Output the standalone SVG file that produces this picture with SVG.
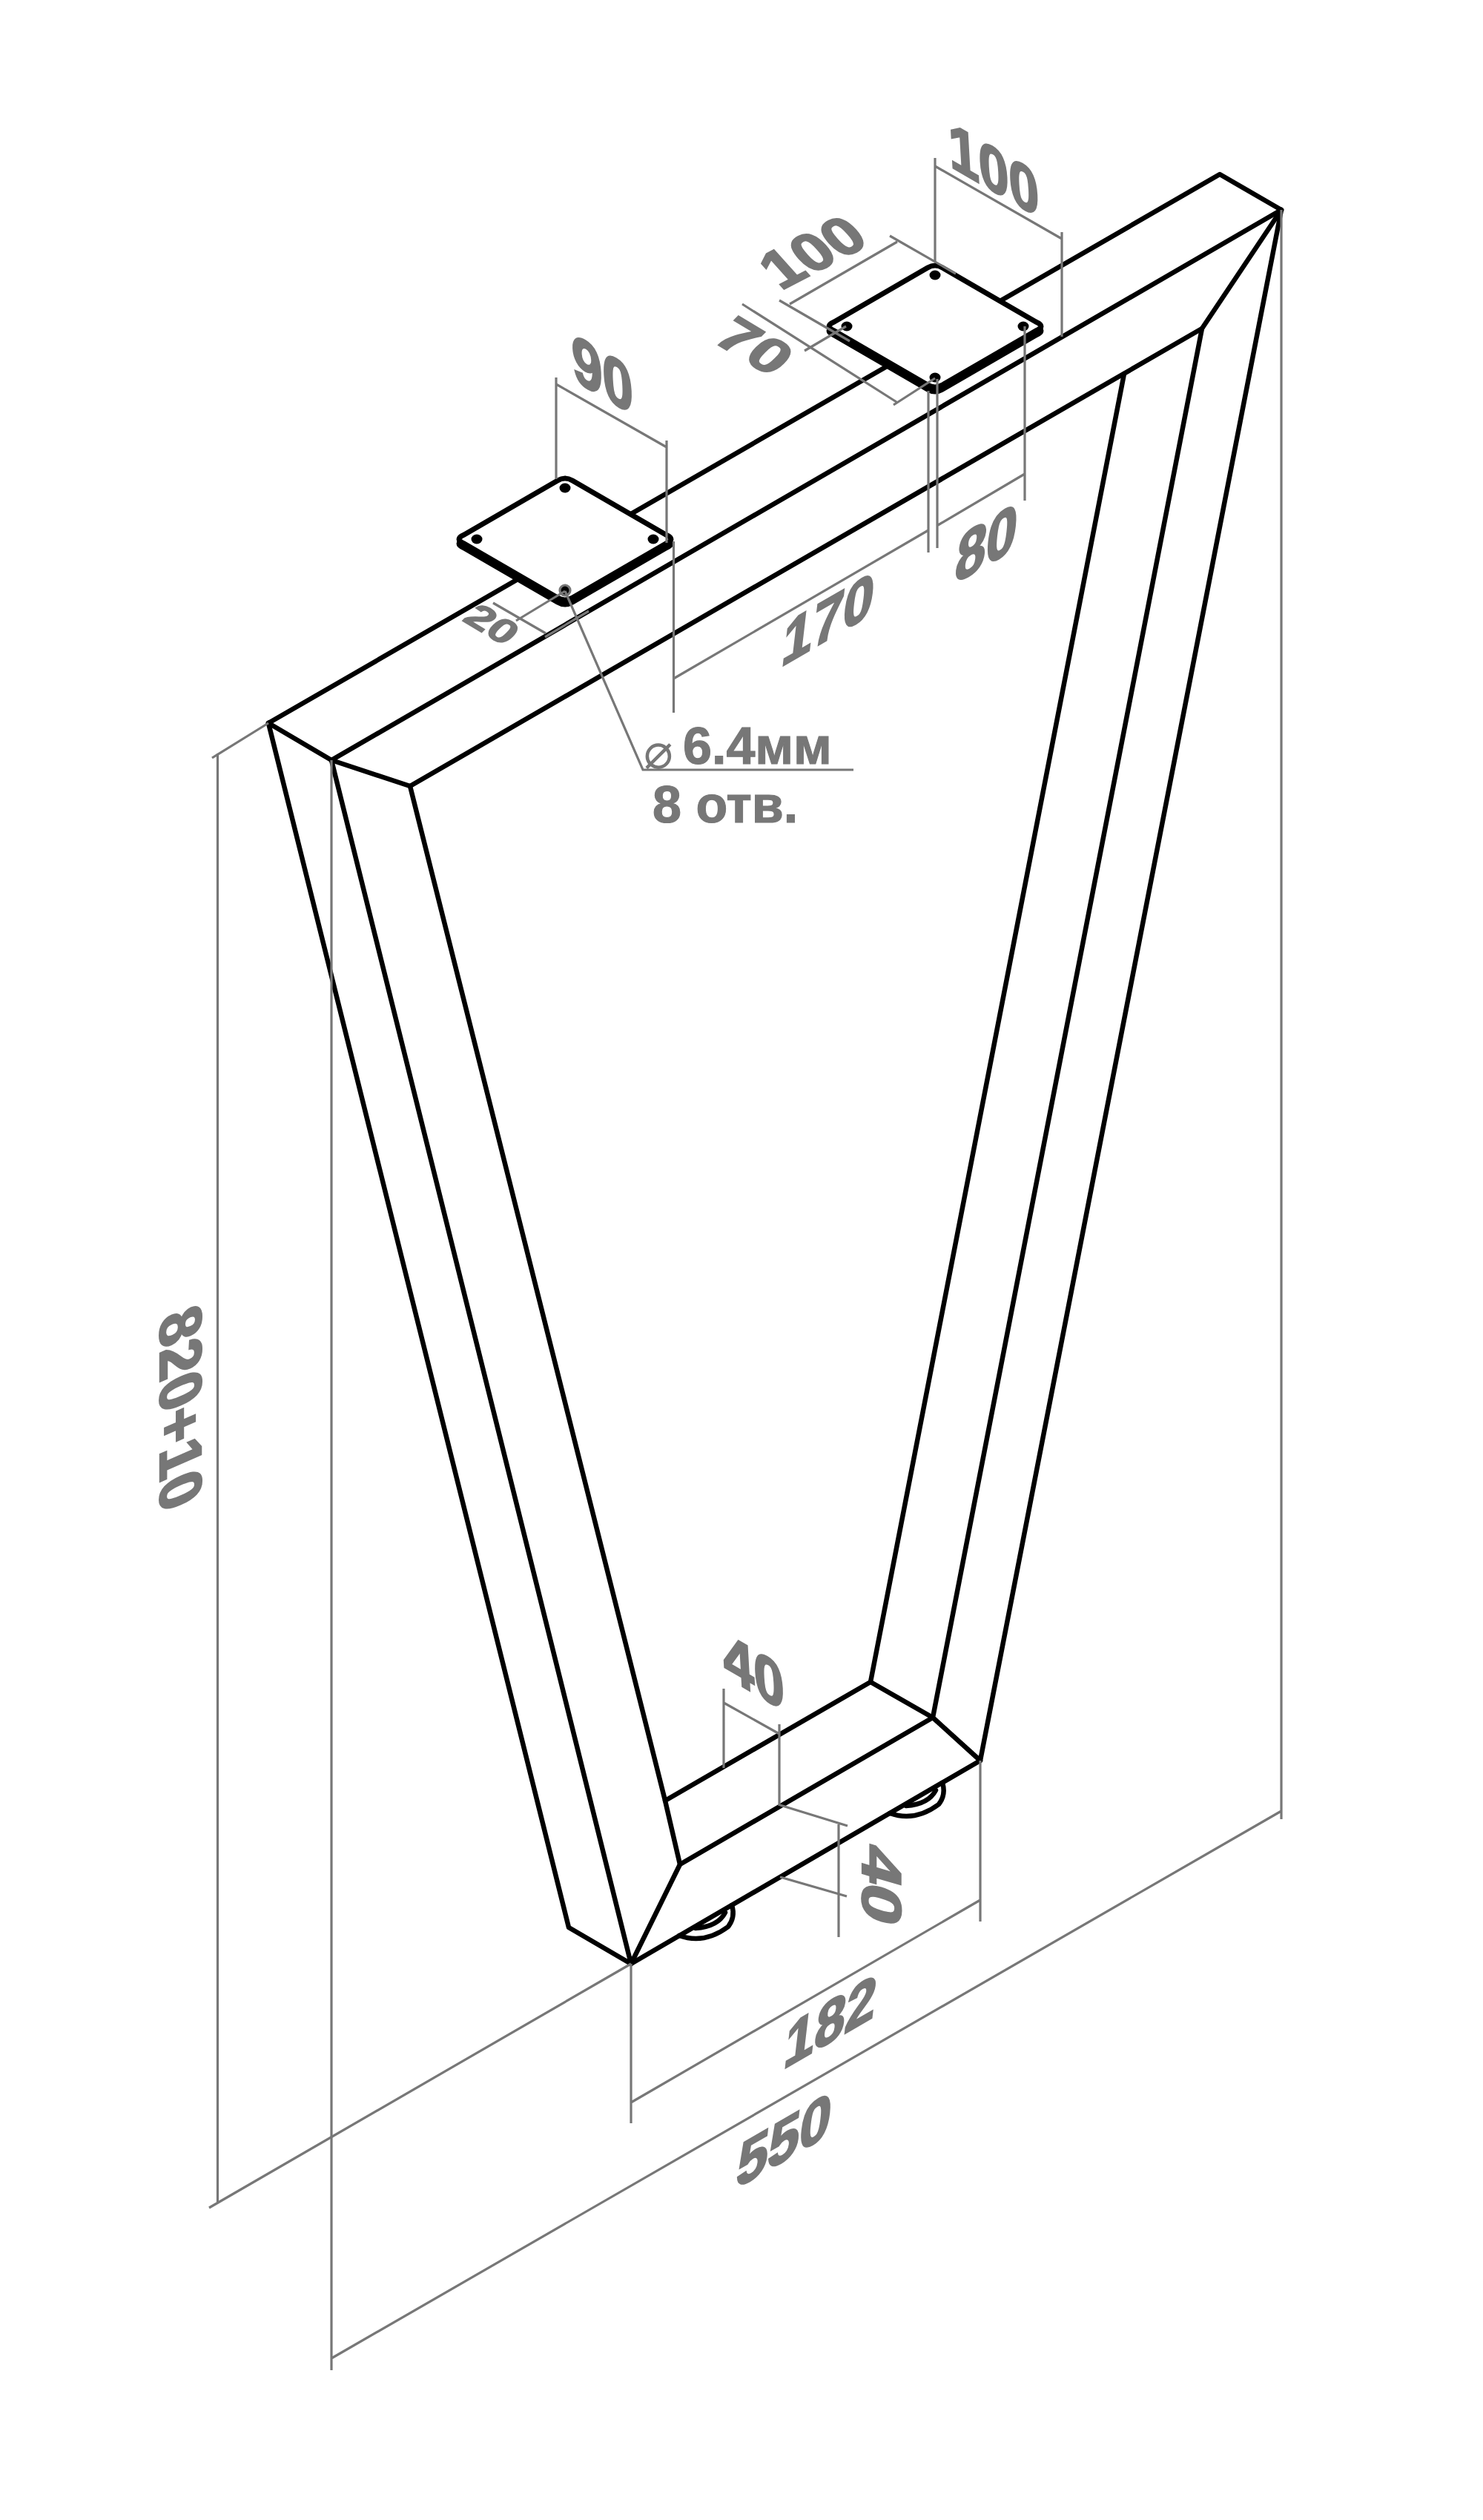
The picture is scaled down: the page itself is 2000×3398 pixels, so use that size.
<svg xmlns="http://www.w3.org/2000/svg" width="2000" height="3398" viewBox="0 0 2000 3398">
<defs>
<style>
.f{fill:none;stroke:#000;stroke-width:6.500;stroke-linecap:round;stroke-linejoin:round}
.d{fill:none;stroke:#777;stroke-width:3.200}
.t{font-family:"Liberation Sans",Arial,sans-serif;font-weight:700;font-size:100px;fill:#777;stroke:#777;stroke-width:3}
.s{font-family:"Liberation Sans",Arial,sans-serif;font-weight:700;font-size:70px;fill:#777;stroke:#777;stroke-width:1.200}
</style>
<path id="plate-shape" d="M-10-79Q0-85 10-79L136-6Q150 0 136 6L10 79Q0 85-10 79L-136 6Q-150 0-136-6Z" stroke-width="7" stroke="#000" stroke-linejoin="round"/>
<g id="plate">
<use href="#plate-shape" y="6" fill="#000"/>
<use href="#plate-shape" fill="#fff"/>
<ellipse cx="0" cy="-69" rx="7.5" ry="6.5"/><ellipse cx="-119" cy="0" rx="7.5" ry="6.5"/><ellipse cx="119" cy="0" rx="7.5" ry="6.5"/><ellipse cx="0" cy="69" rx="7.5" ry="6.5"/>
</g>
</defs>
<rect width="2000" height="3398" fill="#fff"/>
<g id="foot-1" class="f"><path d="M916 2610Q950 2622 982 2598Q992 2585 987 2569M938 2600Q968 2598 978 2579"/></g>
<g id="foot-2" class="f"><path d="M1200 2445Q1234 2457 1266 2433Q1276 2420 1271 2404M1222 2435Q1252 2433 1262 2414"/></g>
<g id="frame" class="f">
<path d="M362 975L1645 235 1728 283 1621 443 553 1060"/>
<path d="M362 975L447 1025 1728 283"/>
<path d="M447 1025L553 1060 897 2428"/>
<path d="M362 975L767 2599 851 2648 447 1025"/>
<path d="M851 2648L917 2514 897 2428 1174 2268 1516 504"/>
<path d="M917 2514L1258 2316 1174 2268"/>
<path d="M851 2648L1322 2374 1258 2316 1621 443"/>
<path d="M1322 2374L1728 283"/>
</g>
<g id="plate-1"><use href="#plate" x="762" y="727"/></g>
<g id="plate-2"><use href="#plate" x="1261" y="440"/></g>
<g id="dimensions" class="d">
<path d="M286 1022L362 975M293.500 1016V2970M282 2977L851 2648"/>
<path d="M447 1025V3196M447 3180L1728 2442M1728 283V2453"/>
<path d="M851 2648V2863M851 2835L1322 2562M1322 2374V2591"/>
<path d="M976 2277V2384M976 2296L1051 2338M1051 2325V2435"/>
<path d="M1052 2434L1143 2462M1052 2531L1142 2557M1131 2460V2612"/>
<path d="M1261 213V353M1261 224L1432 322M1432 313V454"/>
<path d="M1200 318L1289 369M1051 405L1146 460M1210 326L1065 410"/>
<path d="M1001 410L1209 542M1085 473L1141 440M1205 546L1261 510"/>
<path d="M1252 527V745M1264 511V739M1382 440V675M1265 708L1382 639"/>
<path d="M908.500 915L1252 715"/>
<path d="M750 509V646M750 518L899 603M899 594V732M908.500 730V961"/>
<path d="M665 813L736 854M696 837L762 797M735 859L794 824"/>
<path d="M762 797L867 1038H1151"/>
<circle cx="762" cy="796" r="7"/>
</g>
<g id="labels">
<text class="t" transform="matrix(.73 .42 .05 .88 1281 224)">100</text>
<text class="t" transform="matrix(.73 -.38 .53 .59 1053 392)">100</text>
<text class="t" transform="matrix(.75 .45 -.5 .5 958.600 459)">70</text>
<text class="t" transform="matrix(.74 .43 .05 .92 773 512)">90</text>
<text class="t" transform="matrix(.53 .32 -.35 .35 622 836)">20</text>
<text class="t" transform="matrix(.74 -.43 -.1 .86 1052 900)">170</text>
<text class="t" transform="matrix(.74 -.43 -.1 .93 1286 788)">80</text>
<text class="t" transform="matrix(0 .79 -.8 .35 216 1778)">820+10</text>
<text class="t" transform="matrix(.74 .43 .05 .88 977 2260)">40</text>
<text class="t" transform="matrix(0 .93 -.75 -.22 1163 2483)">40</text>
<text class="t" transform="matrix(.74 -.43 -.1 .86 1055 2791)">182</text>
<text class="t" transform="matrix(.76 -.44 -.1 .87 991 2952)">550</text>
<text x="868" y="1036" style="font-family:'DejaVu Sans',sans-serif;font-size:66px;fill:#777">⌀</text>
<text class="s" x="921" y="1030">6.4мм</text>
<text class="s" x="880" y="1109">8 отв.</text>
</g>
</svg>
